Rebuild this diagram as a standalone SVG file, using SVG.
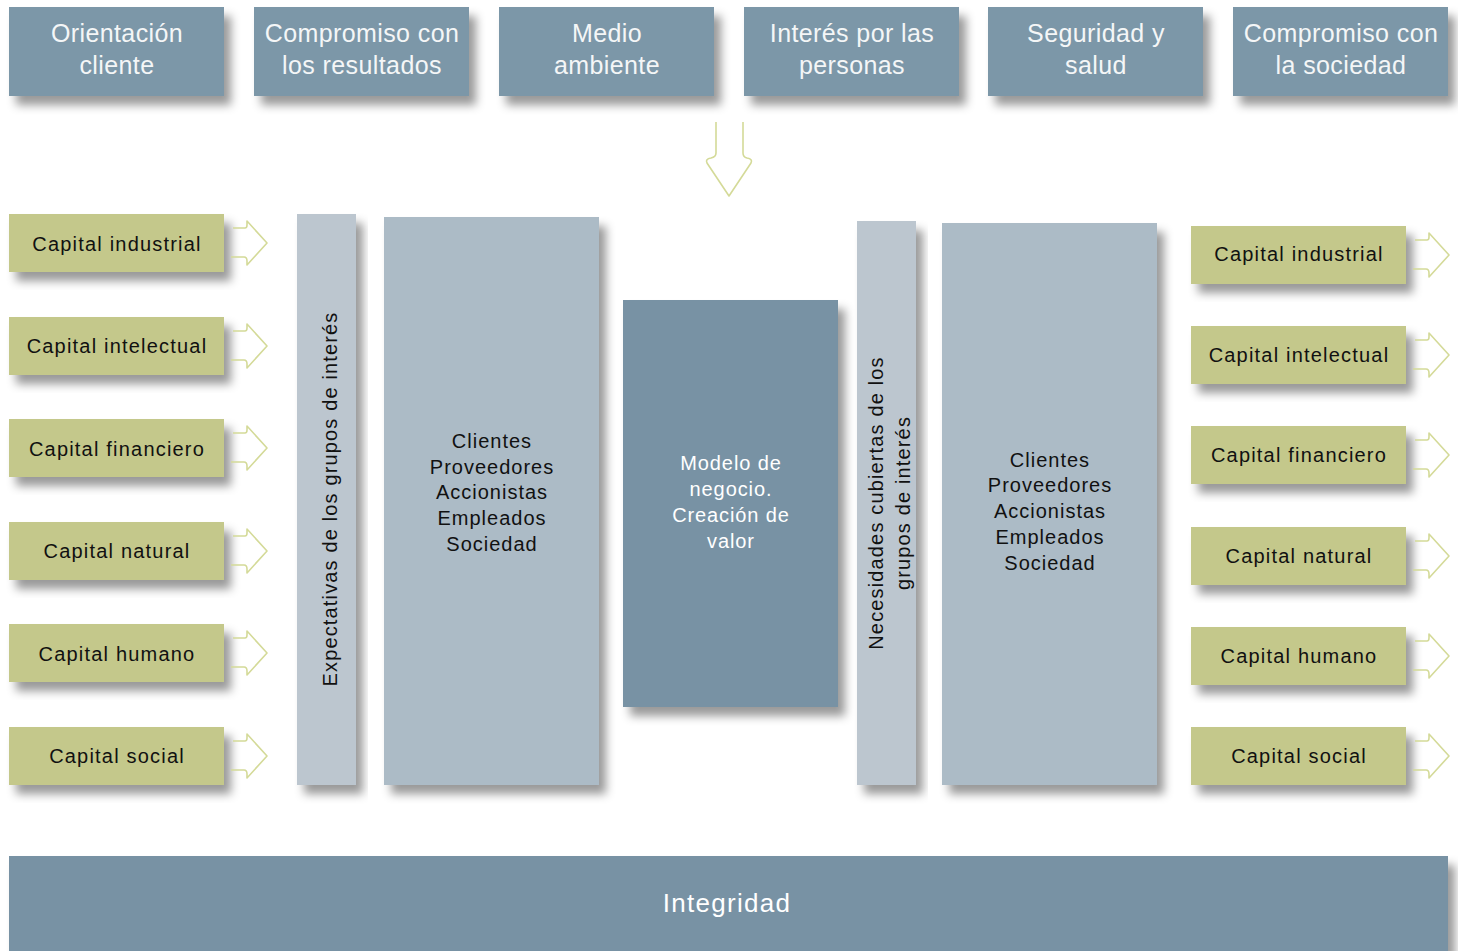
<svg xmlns="http://www.w3.org/2000/svg" width="1458" height="951" viewBox="0 0 1458 951">
<defs>
<filter id="sh" x="-10%" y="-10%" width="130%" height="140%">
<feDropShadow dx="7" dy="9" stdDeviation="5" flood-color="#000" flood-opacity="0.4"/>
</filter>
<path id="chev" d="M-8,-15 L4,-15 Q6,-15 6,-18 L6,-22 L26,0 L6,22 L6,18 Q6,14 3,14 L-10,14" fill="none" stroke="#d4da98" stroke-width="1.6" stroke-linejoin="round"/>
</defs>
<style>
.top{fill:#7b97a8}
.grn{fill:#c4c88b}
.bar{fill:#bcc6cf}
.big{fill:#acbbc6}
.mid{fill:#7892a4}
.tw{font-family:"Liberation Sans",Arial,sans-serif;font-size:25px;fill:#f4f6f7;text-anchor:middle;letter-spacing:0.4px}
.tg{font-family:"Liberation Sans",Arial,sans-serif;font-size:20px;fill:#111;text-anchor:middle;letter-spacing:1.2px}
.tb{font-family:"Liberation Sans",Arial,sans-serif;font-size:20px;fill:#111;text-anchor:middle;letter-spacing:1px}
.tv{font-family:"Liberation Sans",Arial,sans-serif;font-size:20px;fill:#111;text-anchor:middle;letter-spacing:1.15px}
.tm{font-family:"Liberation Sans",Arial,sans-serif;font-size:20px;fill:#fff;text-anchor:middle;letter-spacing:0.9px}
.ti{font-family:"Liberation Sans",Arial,sans-serif;font-size:26px;fill:#fff;text-anchor:middle;letter-spacing:1.3px}
</style>
<rect width="1458" height="951" fill="#fff"/>

<g id="values">
<g id="v1"><rect class="top" x="9" y="7" width="215" height="89" filter="url(#sh)"/><text class="tw" x="117" y="42">Orientación</text><text class="tw" x="117" y="74">cliente</text></g>
<g id="v2"><rect class="top" x="254" y="7" width="215" height="89" filter="url(#sh)"/><text class="tw" x="362" y="42">Compromiso con</text><text class="tw" x="362" y="74">los resultados</text></g>
<g id="v3"><rect class="top" x="499" y="7" width="215" height="89" filter="url(#sh)"/><text class="tw" x="607" y="42">Medio</text><text class="tw" x="607" y="74">ambiente</text></g>
<g id="v4"><rect class="top" x="744" y="7" width="215" height="89" filter="url(#sh)"/><text class="tw" x="852" y="42">Interés por las</text><text class="tw" x="852" y="74">personas</text></g>
<g id="v5"><rect class="top" x="988" y="7" width="215" height="89" filter="url(#sh)"/><text class="tw" x="1096" y="42">Seguridad y</text><text class="tw" x="1096" y="74">salud</text></g>
<g id="v6"><rect class="top" x="1233" y="7" width="215" height="89" filter="url(#sh)"/><text class="tw" x="1341" y="42">Compromiso con</text><text class="tw" x="1341" y="74">la sociedad</text></g>
</g>

<g id="left-capitals">
<g id="l1"><rect class="grn" x="9" y="214" width="215" height="58" filter="url(#sh)"/><text class="tg" x="117" y="251">Capital industrial</text></g>
<g id="l2"><rect class="grn" x="9" y="317" width="215" height="58" filter="url(#sh)"/><text class="tg" x="117" y="353">Capital intelectual</text></g>
<g id="l3"><rect class="grn" x="9" y="419" width="215" height="58" filter="url(#sh)"/><text class="tg" x="117" y="456">Capital financiero</text></g>
<g id="l4"><rect class="grn" x="9" y="522" width="215" height="58" filter="url(#sh)"/><text class="tg" x="117" y="558">Capital natural</text></g>
<g id="l5"><rect class="grn" x="9" y="624" width="215" height="58" filter="url(#sh)"/><text class="tg" x="117" y="661">Capital humano</text></g>
<g id="l6"><rect class="grn" x="9" y="727" width="215" height="58" filter="url(#sh)"/><text class="tg" x="117" y="763">Capital social</text></g>
</g>

<g id="expectativas"><rect class="bar" x="297" y="214" width="59" height="571" filter="url(#sh)"/><text class="tv" transform="translate(337,499) rotate(-90)">Expectativas de los grupos de interés</text></g>

<g id="stakeholders-left"><rect class="big" x="384" y="217" width="215" height="568" filter="url(#sh)"/>
<text class="tb" x="492" y="448">Clientes</text><text class="tb" x="492" y="474">Proveedores</text><text class="tb" x="492" y="499">Accionistas</text><text class="tb" x="492" y="525">Empleados</text><text class="tb" x="492" y="551">Sociedad</text></g>

<g id="modelo"><rect class="mid" x="623" y="300" width="215" height="407" filter="url(#sh)"/>
<text class="tm" x="731" y="470">Modelo de</text><text class="tm" x="731" y="496">negocio.</text><text class="tm" x="731" y="522">Creación de</text><text class="tm" x="731" y="548">valor</text></g>

<g id="necesidades"><rect class="bar" x="857" y="221" width="59" height="564" filter="url(#sh)"/>
<text class="tv" transform="translate(883,503) rotate(-90)">Necesidades cubiertas de los</text><text class="tv" transform="translate(910,503) rotate(-90)">grupos de interés</text></g>

<g id="stakeholders-right"><rect class="big" x="942" y="223" width="215" height="562" filter="url(#sh)"/>
<text class="tb" x="1050" y="467">Clientes</text><text class="tb" x="1050" y="492">Proveedores</text><text class="tb" x="1050" y="518">Accionistas</text><text class="tb" x="1050" y="544">Empleados</text><text class="tb" x="1050" y="570">Sociedad</text></g>

<g id="right-capitals">
<g id="r1"><rect class="grn" x="1191" y="226" width="215" height="58" filter="url(#sh)"/><text class="tg" x="1299" y="261">Capital industrial</text></g>
<g id="r2"><rect class="grn" x="1191" y="326" width="215" height="58" filter="url(#sh)"/><text class="tg" x="1299" y="362">Capital intelectual</text></g>
<g id="r3"><rect class="grn" x="1191" y="426" width="215" height="58" filter="url(#sh)"/><text class="tg" x="1299" y="462">Capital financiero</text></g>
<g id="r4"><rect class="grn" x="1191" y="527" width="215" height="58" filter="url(#sh)"/><text class="tg" x="1299" y="563">Capital natural</text></g>
<g id="r5"><rect class="grn" x="1191" y="627" width="215" height="58" filter="url(#sh)"/><text class="tg" x="1299" y="663">Capital humano</text></g>
<g id="r6"><rect class="grn" x="1191" y="727" width="215" height="58" filter="url(#sh)"/><text class="tg" x="1299" y="763">Capital social</text></g>
</g>

<g id="integridad"><rect class="mid" x="9" y="856" width="1439" height="100" filter="url(#sh)"/><text class="ti" x="727" y="912">Integridad</text></g>

<g id="connectors">
<path d="M716,122 L716,153 Q716,157 711,158 Q705,159 707,163 L729,196 L751,163 Q753,159 747,158 Q743,157 743,153 L743,122" fill="none" stroke="#d4da98" stroke-width="1.6" stroke-linejoin="round"/>
<use href="#chev" x="241" y="243"/>
<use href="#chev" x="241" y="346"/>
<use href="#chev" x="241" y="448"/>
<use href="#chev" x="241" y="551"/>
<use href="#chev" x="241" y="653"/>
<use href="#chev" x="241" y="756"/>
<use href="#chev" x="1423" y="255"/>
<use href="#chev" x="1423" y="355"/>
<use href="#chev" x="1423" y="455"/>
<use href="#chev" x="1423" y="556"/>
<use href="#chev" x="1423" y="656"/>
<use href="#chev" x="1423" y="756"/>
</g>
</svg>
